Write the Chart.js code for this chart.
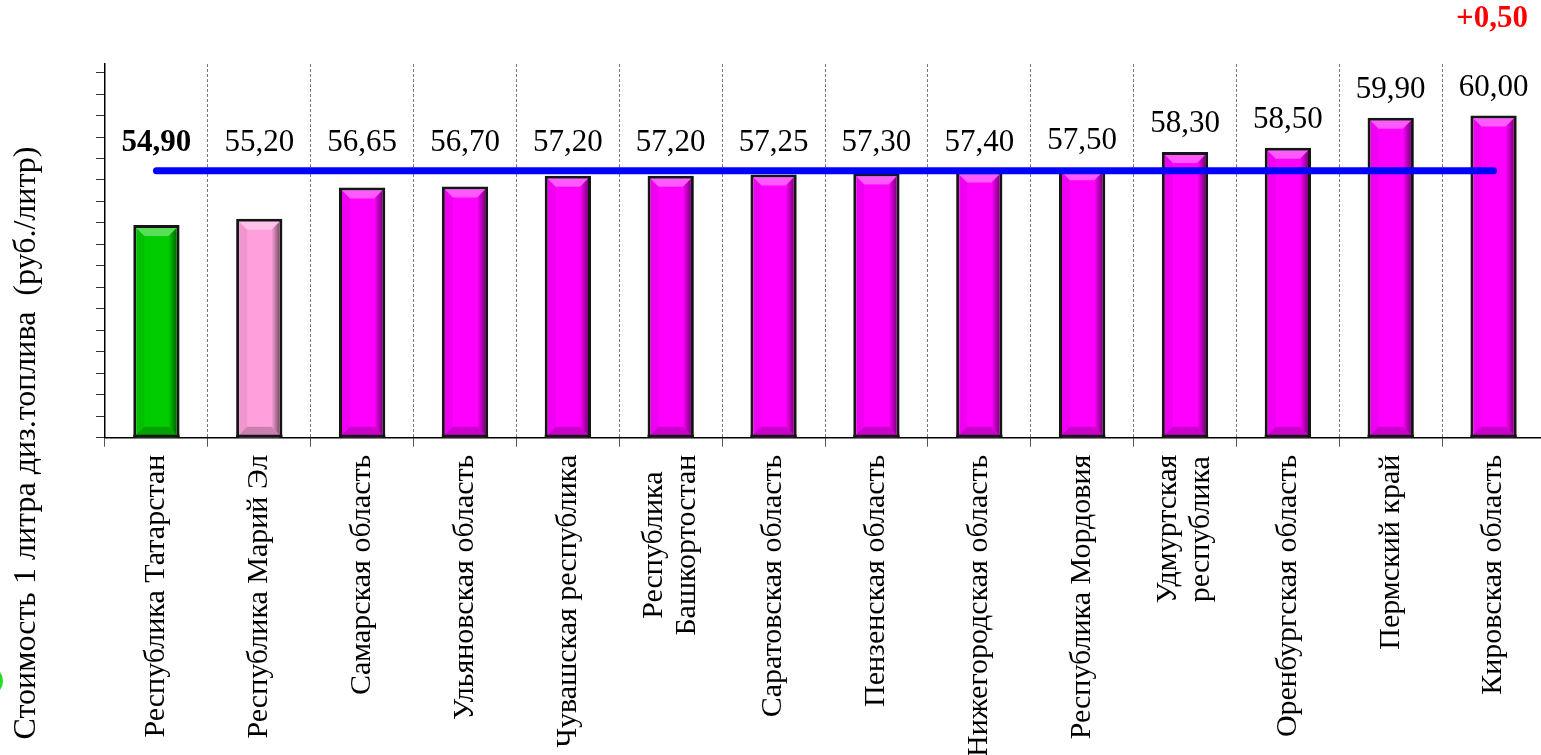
<!DOCTYPE html>
<html lang="ru">
<head>
<meta charset="utf-8">
<title>Стоимость 1 литра диз.топлива</title>
<script src="https://cdn.jsdelivr.net/npm/chart.js@4.4.1/dist/chart.umd.min.js"></script>
<style>
  html, body { margin: 0; padding: 0; background: #fff; overflow: hidden; }
  #wrap { position: relative; width: 1545px; height: 755px; }
  #dot { position: absolute; left: -27px; top: 666px; width: 30px; height: 30px; border-radius: 50%; background: #22dd22; }
</style>
</head>
<body>
<div id="wrap">
  <canvas id="fuel-chart"></canvas>
  <div id="dot"></div>
</div>
<script>
// regions, ordered as on the picture
const regions = [
  'Республика Татарстан', 'Республика Марий Эл', 'Самарская область', 'Ульяновская область',
  'Чувашская республика', ['Республика', 'Башкортостан'], 'Саратовская область', 'Пензенская область',
  'Нижегородская область', 'Республика Мордовия', ['Удмуртская', 'республика'], 'Оренбургская область',
  'Пермский край', 'Кировская область'
];
const prices = [54.90, 55.20, 56.65, 56.70, 57.20, 57.20, 57.25, 57.30, 57.40, 57.50, 58.30, 58.50, 59.90, 60.00];
const averagePrice = 57.43;
const yMin = 45;
const yMax = 62.4;
const yStep = 1;
const axisTitle = 'Стоимость 1 литра диз.топлива  (руб./литр)';
const changeNote = '+0,50';

const SERIF = "'Liberation Serif', 'Times New Roman', serif";
const barColors = prices.map((v, i) => i === 0 ? '#00cc00' : (i === 1 ? '#ffa0dc' : '#ff00ff'));

const fmt = v => v.toFixed(2).replace('.', ',');

// bevel look on the bars (Excel-style)
const bevelPlugin = {
    id: 'bevel',
    afterDatasetDraw(chart, args) {
        if (args.index !== 1) return;
        const ctx = chart.ctx;
        const area = chart.chartArea;
        const b = 3, s = 8;
        args.meta.data.forEach(el => {
            const { x, y, base, width } = el.getProps(['x', 'y', 'base', 'width'], true);
            const bottom = Math.min(base, area.bottom);
            const l = x - width / 2 + b, r = x + width / 2 - b, t = y + b, bt = bottom - b;
            ctx.save();
            // top highlight
            ctx.fillStyle = 'rgba(255,255,255,0.35)';
            ctx.beginPath();
            ctx.moveTo(l, t); ctx.lineTo(r, t); ctx.lineTo(r - s, t + s); ctx.lineTo(l + s, t + s);
            ctx.closePath(); ctx.fill();
            // right shade
            const g = ctx.createLinearGradient(r - s, 0, r, 0);
            g.addColorStop(0, 'rgba(0,0,0,0)');
            g.addColorStop(1, 'rgba(0,0,0,0.5)');
            ctx.fillStyle = g;
            ctx.beginPath();
            ctx.moveTo(r, t); ctx.lineTo(r, bt); ctx.lineTo(r - s, bt - s); ctx.lineTo(r - s, t + s);
            ctx.closePath(); ctx.fill();
            // left edge
            ctx.fillStyle = 'rgba(0,0,0,0.06)';
            ctx.beginPath();
            ctx.moveTo(l, t); ctx.lineTo(l + s, t + s); ctx.lineTo(l + s, bt - s); ctx.lineTo(l, bt);
            ctx.closePath(); ctx.fill();
            // bottom
            ctx.fillStyle = 'rgba(0,0,0,0.2)';
            ctx.beginPath();
            ctx.moveTo(l, bt); ctx.lineTo(r, bt); ctx.lineTo(r - s, bt - s); ctx.lineTo(l + s, bt - s);
            ctx.closePath(); ctx.fill();
            // bottom border
            ctx.fillStyle = '#151515';
            ctx.fillRect(l - b, bt, r - l + 2 * b, b);
            ctx.restore();
        });
    }
};

// value labels, x labels, axis title and the change note
const textPlugin = {
    id: 'texts',
    afterDraw(chart) {
        const ctx = chart.ctx;
        const xScale = chart.scales.x;
        const lineY = chart.scales.y.getPixelForValue(averagePrice);
        const bars = chart.getDatasetMeta(1).data;

        ctx.save();
        ctx.fillStyle = '#000';
        ctx.textAlign = 'center';
        ctx.textBaseline = 'middle';
        bars.forEach((el, i) => {
            const top = Math.min(el.y, lineY);
            ctx.font = (i === 0 ? 'bold ' : '') + '31px ' + SERIF;
            ctx.fillText(fmt(prices[i]), el.x, top - 28);
        });

        // category labels, rotated, reading bottom to top
        ctx.font = '30px ' + SERIF;
        const axisBottom = chart.chartArea.bottom + 17;
        regions.forEach((lab, i) => {
            const lines = Array.isArray(lab) ? lab : [lab];
            const cx = xScale.getPixelForValue(i);
            const w = Math.max(...lines.map(t => ctx.measureText(t).width));
            ctx.save();
            ctx.translate(cx, axisBottom);
            ctx.rotate(-Math.PI / 2);
            lines.forEach((t, k) => {
                ctx.fillText(t, -w / 2, (k - (lines.length - 1) / 2) * 33);
            });
            ctx.restore();
        });

        // y axis title
        ctx.font = '32px ' + SERIF;
        ctx.save();
        ctx.translate(27, 443);
        ctx.rotate(-Math.PI / 2);
        ctx.fillText(axisTitle, 0, 0);
        ctx.restore();

        ctx.font = 'bold 31px ' + SERIF;
        ctx.fillStyle = '#ff0000';
        ctx.fillText(changeNote, 1492, 19);
        ctx.restore();
    }
};

new Chart(document.getElementById('fuel-chart'), {
    type: 'bar',
    data: {
        labels: regions,
        datasets: [
            {
                type: 'line',
                data: regions.map(() => averagePrice),
                borderColor: '#0000ff',
                borderWidth: 7,
                borderCapStyle: 'round',
                pointRadius: 0,
                fill: false,
                order: 0
            },
            {
                data: prices,
                backgroundColor: barColors,
                borderColor: '#151515',
                borderWidth: 3,
                borderSkipped: false,
                barPercentage: 0.9,
                categoryPercentage: 0.5,
                order: 1
            }
        ]
    },
    options: {
        responsive: true,
        maintainAspectRatio: false,
        animation: false,
        layout: { padding: { top: 64, left: 0, right: 0, bottom: 0 } },
        plugins: { legend: { display: false }, tooltip: { enabled: false } },
        scales: {
            x: {
                ticks: { display: false },
                grid: { offset: true, color: '#7a7a7a', lineWidth: 1, tickLength: 9, tickColor: '#555' },
                border: { color: '#000', width: 1.5, dash: [3, 2] },
                afterFit: s => { s.height = 317.3; }
            },
            y: {
                min: yMin,
                max: yMax,
                ticks: { display: false, stepSize: yStep, includeBounds: false },
                grid: { drawOnChartArea: false, tickLength: 9, tickColor: '#333', color: '#333' },
                border: { color: '#000', width: 1.5 },
                afterFit: s => { s.width = 105; }
            }
        }
    },
    plugins: [bevelPlugin, textPlugin]
});
</script>
</body>
</html>
